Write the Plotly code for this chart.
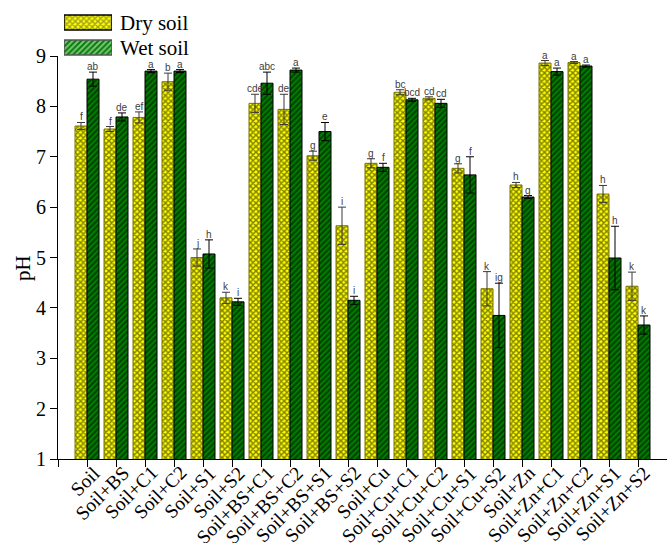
import plotly.graph_objects as go

# Treatments and pH means / standard deviations
treatments = ["Soil", "Soil+BS", "Soil+C1", "Soil+C2", "Soil+S1", "Soil+S2",
              "Soil+BS+C1", "Soil+BS+C2", "Soil+BS+S1", "Soil+BS+S2",
              "Soil+Cu", "Soil+Cu+C1", "Soil+Cu+C2", "Soil+Cu+S1", "Soil+Cu+S2",
              "Soil+Zn", "Soil+Zn+C1", "Soil+Zn+C2", "Soil+Zn+S1", "Soil+Zn+S2"]

dry_ph = [7.61, 7.55, 7.78, 8.49, 5.00, 4.20, 8.06, 7.94, 7.02, 5.63,
          6.87, 8.28, 8.16, 6.77, 4.38, 6.44, 8.86, 8.87, 6.26, 4.43]
dry_sd = [0.07, 0.05, 0.11, 0.17, 0.17, 0.11, 0.18, 0.30, 0.09, 0.37,
          0.09, 0.05, 0.03, 0.09, 0.34, 0.05, 0.05, 0.02, 0.17, 0.28]
dry_letters = ["f", "f", "ef", "b", "j", "k", "cde", "de", "g", "i",
               "g", "bc", "cd", "g", "k", "h", "a", "a", "h", "k"]

wet_ph = [8.54, 7.79, 8.70, 8.70, 5.07, 4.12, 8.46, 8.72, 7.50, 4.15,
          6.79, 8.13, 8.06, 6.64, 3.85, 6.20, 8.69, 8.80, 4.99, 3.66]
wet_sd = [0.14, 0.08, 0.03, 0.03, 0.28, 0.07, 0.22, 0.04, 0.18, 0.08,
          0.08, 0.03, 0.08, 0.36, 0.64, 0.03, 0.07, 0.02, 0.63, 0.18]
wet_letters = ["ab", "de", "a", "a", "h", "i", "abc", "a", "e", "i",
               "f", "bcd", "cd", "f", "ig", "g", "a", "a", "h", "k"]

series_names = ["Dry soil", "Wet soil"]
y_ticks = [1, 2, 3, 4, 5, 6, 7, 8, 9]

SERIF = "Liberation Serif, Times New Roman, serif"
SANS = "Liberation Sans, Arial, sans-serif"

W, H = 667, 543
ML, MR, MT, MB = 58, 0, 0, 84
PLOT_H = H - MT - MB
PLOT_W = W - ML - MR
TOP_PX = 56  # top of the value axis in pixels from figure top

DRY_PAT = dict(shape="x", fgcolor="#000000", bgcolor="#ffff00", size=4, solidity=0.6)
WET_PAT = dict(shape="/", fgcolor="#000000", bgcolor="#008000", size=4, solidity=0.5)

DRY_STYLE = dict(color="#ffff00", pattern=DRY_PAT,
                 line=dict(color="#7a7400", width=1))
WET_STYLE = dict(color="#008000", pattern=WET_PAT,
                 line=dict(color="#000000", width=1))

x_idx = list(range(len(treatments)))
BARGAP = 5 / 29
half = (1 - BARGAP) / 4  # offset of each bar centre from the group centre

fig = go.Figure()
fig.add_trace(go.Bar(
    x=x_idx, y=dry_ph, name=series_names[0], marker=DRY_STYLE,
    error_y=dict(type="data", array=dry_sd, visible=True, color="#3a3a3a",
                 thickness=1, width=4),
    showlegend=False))
fig.add_trace(go.Bar(
    x=x_idx, y=wet_ph, name=series_names[1], marker=WET_STYLE,
    error_y=dict(type="data", array=wet_sd, visible=True, color="#000000",
                 thickness=1, width=4),
    showlegend=False))

# Significance letters above each error bar
annotations = []
for i in x_idx:
    for dx, val, sd, lab in ((-half, dry_ph[i], dry_sd[i], dry_letters[i]),
                             (half, wet_ph[i], wet_sd[i], wet_letters[i])):
        annotations.append(dict(
            x=i + dx, y=val + sd, xref="x", yref="y", text=lab,
            showarrow=False, yanchor="bottom", yshift=-2,
            font=dict(family=SANS, size=10, color="#404040")))

# Rotated category labels under each tick
for i, name in zip(x_idx, treatments):
    annotations.append(dict(
        x=i, y=0, xref="x", yref="paper", text=name, textangle=-45,
        showarrow=False, xanchor="right", yanchor="top",
        xshift=18, yshift=-2, borderpad=0,
        font=dict(family=SERIF, size=19.5, color="#000000")))

# Legend swatches drawn as patterned bars on a small overlay axis
fig.add_trace(go.Bar(
    x=[1, 1], y=[1, 0], orientation="h", width=0.6,
    xaxis="x2", yaxis="y2", showlegend=False, hoverinfo="skip",
    marker=dict(color=["#ffff00", "#008000"],
                pattern=dict(shape=["x", "/"], fgcolor="#000000",
                             bgcolor=["#ffff00", "#008000"],
                             size=4, solidity=[0.6, 0.5]),
                line=dict(color=["#000000", "#555555"], width=1.5))))

def px_to_paper_y(py):
    return 1 - (py - MT) / PLOT_H

def px_to_paper_x(px):
    return (px - ML) / PLOT_W

for name, cy in zip(series_names, (22.5, 47.5)):
    annotations.append(dict(
        x=px_to_paper_x(118), y=px_to_paper_y(cy), xref="paper", yref="paper",
        xanchor="left", yanchor="middle", text=name, showarrow=False,
        font=dict(family=SERIF, size=21, color="#000000")))

# Axis title
annotations.append(dict(
    x=-(ML - 23) / PLOT_W, y=px_to_paper_y(268), xref="paper", yref="paper",
    text="pH", textangle=-90, showarrow=False, xanchor="center", yanchor="middle",
    font=dict(family=SERIF, size=21, color="#000000")))

fig.update_layout(
    width=W, height=H,
    margin=dict(l=ML, r=MR, t=MT, b=MB, pad=0, autoexpand=False),
    paper_bgcolor="white", plot_bgcolor="white",
    barmode="group", bargap=BARGAP, bargroupgap=0,
    annotations=annotations,
    xaxis=dict(
        range=[-1, 20], tickmode="array", automargin=False,
        tickvals=[-1] + x_idx, showticklabels=False,
        ticks="outside", ticklen=7, tickwidth=1, tickcolor="black",
        showline=True, linecolor="black", linewidth=1, showgrid=False,
        zeroline=False),
    yaxis=dict(
        range=[1, 9], domain=[0, px_to_paper_y(TOP_PX)], automargin=False,
        tickmode="array", tickvals=y_ticks,
        ticks="outside", ticklen=7, tickwidth=1, tickcolor="black",
        showline=True, linecolor="black", linewidth=1, showgrid=False,
        zeroline=False, tickfont=dict(family=SERIF, size=20, color="black")),
    xaxis2=dict(domain=[px_to_paper_x(64), px_to_paper_x(112)], range=[0, 1],
                anchor="y2", visible=False, fixedrange=True),
    yaxis2=dict(domain=[px_to_paper_y(60), px_to_paper_y(10)], range=[-0.5, 1.5],
                anchor="x2", visible=False, fixedrange=True),
    showlegend=False,
)

fig.write_html("out.html")
